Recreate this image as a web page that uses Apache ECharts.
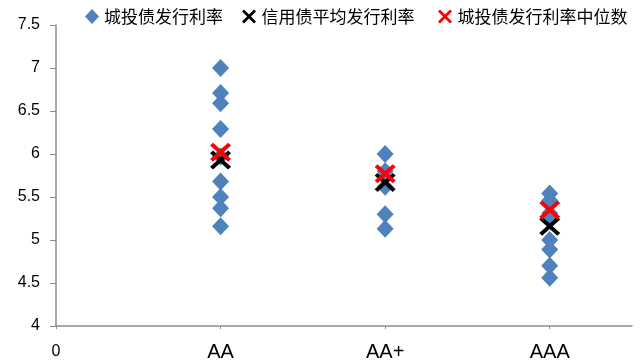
<!DOCTYPE html>
<html>
<head>
<meta charset="utf-8">
<script src="https://cdn.jsdelivr.net/npm/echarts@6/dist/echarts.min.js"></script>
<style>
  html, body { margin: 0; padding: 0; background: #fff; }
  #chart { width: 642px; height: 363px; }
</style>
</head>
<body>
<div id="chart"></div>
<script>
// Rating categories placed at x = 1, 2, 3 on the horizontal axis
const categories = ['AA', 'AA+', 'AAA'];
const xTickLabels = ['0', 'AA', 'AA+', 'AAA'];

// Individual urban-investment bond issuance rates per rating (%)
const lgfvRatesAA  = [7.00, 6.71, 6.59, 6.29, 5.97, 5.68, 5.50, 5.37, 5.16];
const lgfvRatesAAp = [6.00, 5.80, 5.62, 5.30, 5.13];
const lgfvRatesAAA = [5.54, 5.46, 5.31, 5.25, 5.00, 4.89, 4.70, 4.56];

// Average issuance rate of credit bonds per rating
const creditAvg = [5.93, 5.67, 5.16];
// Median issuance rate of urban-investment bonds per rating
const lgfvMedian = [6.02, 5.77, 5.35];

const names = ['城投债发行利率', '信用债平均发行利率', '城投债发行利率中位数'];

const xMark = 'path://M0,1.4L1.4,0L5,3.6L8.6,0L10,1.4L6.4,5L10,8.6L8.6,10L5,6.4L1.4,10L0,8.6L3.6,5Z';

const diamondPoints = [];
[lgfvRatesAA, lgfvRatesAAp, lgfvRatesAAA].forEach((arr, i) => {
  arr.forEach(v => diamondPoints.push([i + 1, v]));
});
const avgPoints = creditAvg.map((v, i) => [i + 1, v]);
const medianPoints = lgfvMedian.map((v, i) => [i + 1, v]);

const chart = echarts.init(document.getElementById('chart'), null, { renderer: 'canvas' });

const legendText = { color: '#000', fontSize: 17, fontFamily: '"Noto Sans CJK SC", sans-serif' };

chart.setOption({
  animation: false,
  backgroundColor: '#fff',
  grid: { left: 56, top: 25, width: 576, height: 301, containLabel: false },
  legend: [
    { data: [names[0]], left: 85, top: 8, padding: 0, itemWidth: 14, itemHeight: 15, itemGap: 0, textStyle: legendText },
    { data: [names[1]], left: 242, top: 8, padding: 0, itemWidth: 15, itemHeight: 14, itemGap: 0, textStyle: legendText },
    { data: [names[2]], left: 438, top: 8, padding: 0, itemWidth: 15, itemHeight: 14, itemGap: 0, textStyle: legendText }
  ],
  xAxis: {
    type: 'value',
    min: 0,
    max: 3.5,
    interval: 1,
    splitLine: { show: false },
    axisLine: { lineStyle: { color: '#8c8c8c', width: 1.5 } },
    axisTick: { show: true, length: 3, lineStyle: { color: '#8c8c8c' } },
    axisLabel: {
      margin: 16,
      formatter: v => {
        const t = xTickLabels[Math.round(v)];
        if (t === undefined || Math.abs(v - Math.round(v)) > 1e-6) return '';
        return v === 0 ? '{z|' + t + '}' : '{c|' + t + '}';
      },
      rich: {
        z: { fontSize: 16, color: '#000', fontFamily: '"Liberation Sans", Arial, sans-serif', padding: [2, 0, 0, 0] },
        c: { fontSize: 20, color: '#000', fontFamily: '"Liberation Sans", Arial, sans-serif' }
      },
      showMaxLabel: false
    }
  },
  yAxis: {
    type: 'value',
    min: 4,
    max: 7.5,
    interval: 0.5,
    splitLine: { show: false },
    axisLine: { show: true, lineStyle: { color: '#8c8c8c', width: 1.5 } },
    axisTick: { show: true, length: 6, lineStyle: { color: '#8c8c8c' } },
    axisLabel: {
      margin: 16,
      color: '#000',
      fontSize: 16,
      fontFamily: '"Liberation Sans", Arial, sans-serif'
    }
  },
  series: [
    {
      name: names[0],
      type: 'scatter',
      symbol: 'diamond',
      symbolSize: [17, 18],
      itemStyle: { color: '#4F81BD', opacity: 1 },
      data: diamondPoints,
      z: 2
    },
    {
      name: names[1],
      type: 'scatter',
      symbol: xMark,
      symbolSize: [21, 19],
      itemStyle: { color: '#000000', opacity: 1 },
      data: avgPoints,
      z: 3
    },
    {
      name: names[2],
      type: 'scatter',
      symbol: xMark,
      symbolSize: [21, 19],
      itemStyle: { color: '#FF0000', opacity: 1 },
      data: medianPoints,
      z: 4
    }
  ]
});
</script>
</body>
</html>
